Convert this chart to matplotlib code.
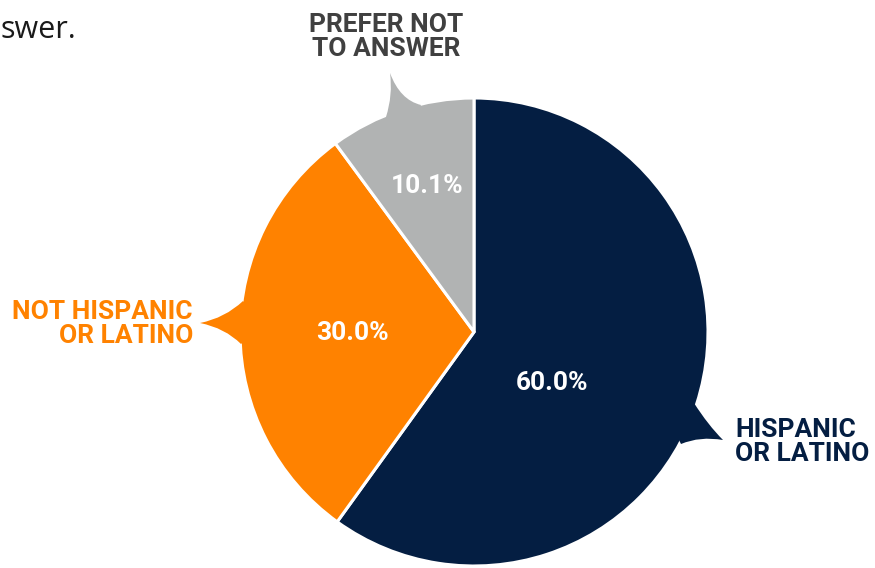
import numpy as np
import matplotlib.pyplot as plt
from matplotlib.path import Path
from matplotlib.patches import PathPatch

# data
labels = ['HISPANIC\nOR LATINO', 'NOT HISPANIC\nOR LATINO', 'PREFER NOT\nTO ANSWER']
values = [60.0, 30.0, 10.1]
colors = ['#041E42', '#FF8200', '#B1B3B3']
label_colors = ['#041E42', '#FF8200', '#404040']

W, H = 875, 568
cx, cy, r = 474, 332, 234

def flip(p):
    return (p[0], H - p[1])

fig = plt.figure(figsize=(8.75, 5.68), dpi=100)
ax = fig.add_axes([0, 0, 1, 1])
ax.set_xlim(0, W)
ax.set_ylim(0, H)
ax.set_aspect('equal')
ax.axis('off')

wedges, _ = ax.pie(values, colors=colors, startangle=90, counterclock=False,
                   center=(cx, H - cy), radius=r,
                   wedgeprops=dict(edgecolor='white', linewidth=2.2))
ax.set_xlim(0, W)
ax.set_ylim(0, H)

# speech bubble pointers: base1, ctrl, tip, ctrl, base2 (pixel coords)
pointers = [
    [(694, 403), (708, 425), (723, 440), (700, 436), (681, 444)],
    [(243, 301), (225, 318), (200, 323), (225, 328), (241, 344)],
    [(386, 117), (393, 95), (390, 73), (400, 100), (421, 105)],
]
for pts, col in zip(pointers, colors):
    inner = (cx + (pts[0][0] + pts[4][0]) / 2 - cx) * 0.9 + cx * 0.1, \
            (cy + (pts[0][1] + pts[4][1]) / 2 - cy) * 0.9 + cy * 0.1
    verts = [flip(pts[0]), flip(pts[1]), flip(pts[2]), flip(pts[3]), flip(pts[4]),
             flip(inner), flip(pts[0])]
    codes = [Path.MOVETO, Path.CURVE3, Path.CURVE3, Path.CURVE3, Path.CURVE3,
             Path.LINETO, Path.CLOSEPOLY]
    ax.add_patch(PathPatch(Path(verts, codes), facecolor=col, edgecolor='none', zorder=3))

# percentages
pct_pos = [(552, 383), (352, 333), (427, 186)]
for v, p in zip(values, pct_pos):
    ax.text(p[0], H - p[1], '%.1f%%' % v, color='white', fontsize=19,
            fontweight='bold', family='Roboto', ha='center', va='center', zorder=4)

# outer labels
ax.text(735, H - 442, labels[0], color=label_colors[0], fontsize=19, fontweight='bold',
        family='Roboto', ha='left', va='center', linespacing=0.95)
ax.text(193, H - 324, labels[1], color=label_colors[1], fontsize=19, fontweight='bold',
        family='Roboto', ha='right', va='center', multialignment='right', linespacing=0.95)
ax.text(386, H - 37, labels[2], color=label_colors[2], fontsize=19, fontweight='bold',
        family='Roboto', ha='center', va='center', linespacing=0.95)

# cut-off caption text
ax.text(0, H - 38, 'swer.', color='#1a1a1a', fontsize=22, family='Open Sans',
        ha='left', va='baseline')

fig.savefig('out.png', dpi=100)
